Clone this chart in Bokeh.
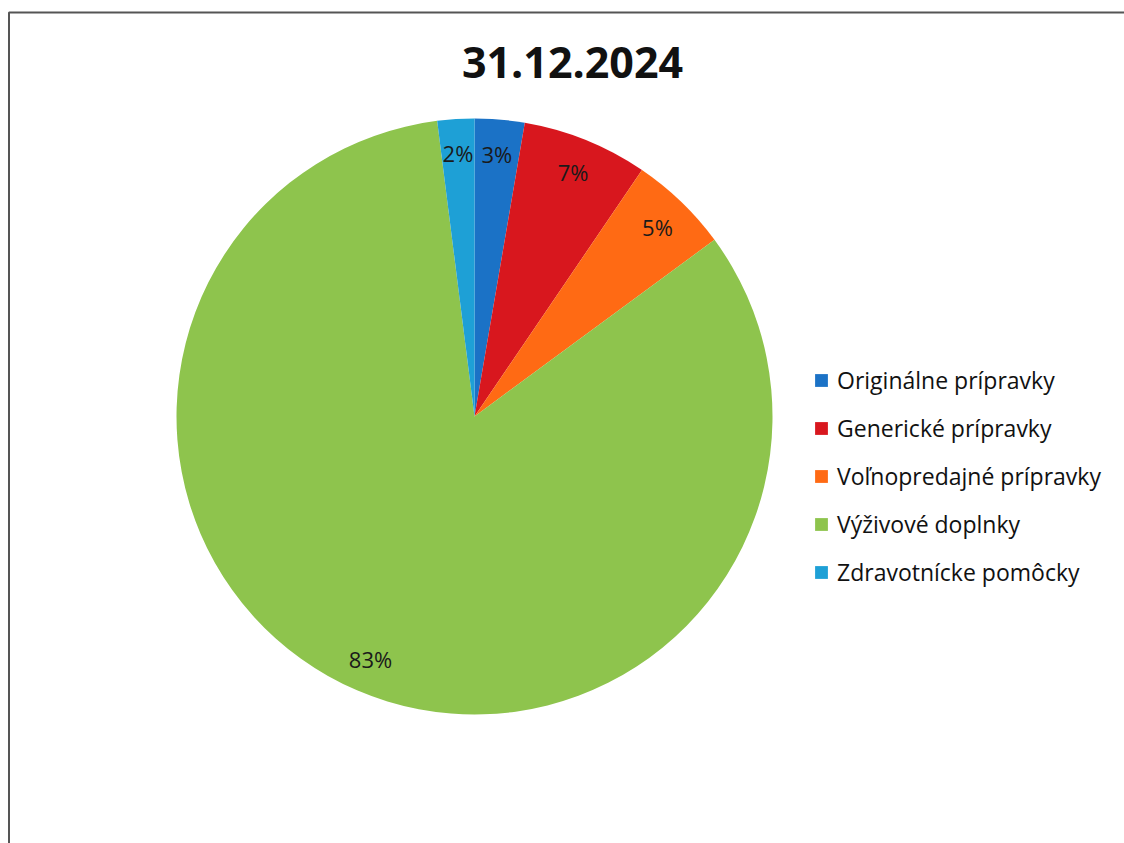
import numpy as np
from bokeh.plotting import figure
from bokeh.models import Legend, LegendItem, ColumnDataSource, Range1d
from bokeh.core.properties import value
from bokeh.embed import file_html
from bokeh.resources import INLINE

title_text = "31.12.2024"
categories = ["Originálne prípravky", "Generické prípravky", "Voľnopredajné prípravky",
              "Výživové doplnky", "Zdravotnícke pomôcky"]
shares = [2.7, 6.8, 5.4, 83.1, 2.0]
labels = ["3%", "7%", "5%", "83%", "2%"]
colors = ["#1b72c6", "#d8171e", "#ff6a14", "#8ec44d", "#1ea0d6"]

W, H = 1124, 843
FONT = "Open Sans"

p = figure(width=W, height=H, x_range=Range1d(0, W), y_range=Range1d(0, H),
           output_backend="svg", toolbar_location=None, min_border=0)
p.axis.visible = False
p.xgrid.visible = False
p.ygrid.visible = False
p.outline_line_color = None
p.background_fill_color = "white"

# page border (scanned frame)
p.line(x=[8.5, 8.5, W], y=[0, 831, 831], line_color="#555555", line_width=2)

cx, cy, r = 474, 427, 298
frac = np.array(shares) / sum(shares)
cum = np.concatenate([[0], np.cumsum(frac)])
start = np.pi / 2 - 2 * np.pi * cum[:-1]
end = np.pi / 2 - 2 * np.pi * cum[1:]
mid = (start + end) / 2
lr = 0.885 * r

src = ColumnDataSource(dict(cat=categories, start=start, end=end, color=colors,
                            lab=labels, lx=cx + lr * np.cos(mid), ly=cy + lr * np.sin(mid)))

w = p.wedge(x=cx, y=cy, radius=r, start_angle="start", end_angle="end",
            direction="clock", fill_color="color", line_color=None, source=src)

p.text(x="lx", y="ly", text="lab", source=src, text_align="center", text_baseline="middle",
       text_font=value(FONT), text_font_size="22px", text_color="#1a1a1a")

p.text(x=[572], y=[781], text=[title_text], text_align="center", text_baseline="middle",
       text_font=value(FONT), text_font_size="43px", text_font_style="bold", text_color="#111111")

items = [LegendItem(label=c, renderers=[w], index=i) for i, c in enumerate(categories)]
legend = Legend(items=items, location=(813, 255), orientation="vertical",
                label_text_font=FONT, label_text_font_size="23px", label_text_color="#111111",
                glyph_width=16, glyph_height=16, label_height=28, spacing=16,
                label_standoff=8, padding=0, margin=0,
                border_line_color=None, background_fill_alpha=0)
p.add_layout(legend, "center")

open("out.html", "w").write(file_html(p, INLINE))
